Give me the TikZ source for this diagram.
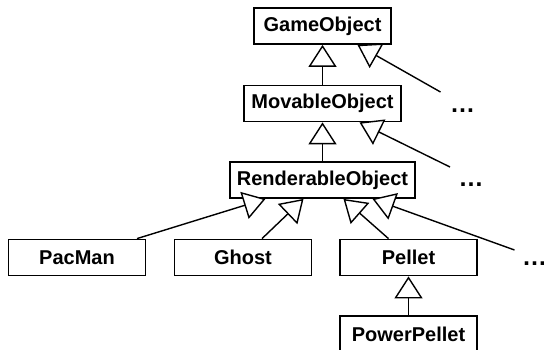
\documentclass[tikz,border=0pt]{standalone}
\usepackage{fontspec}
\setmainfont{Liberation Sans}
\usetikzlibrary{arrows.meta, positioning, calc}

\begin{document}
\begin{tikzpicture}[x=1pt, y=-1pt,
    classbox/.style={draw, line width=1.8pt, fill=white, minimum height=36pt,
        inner sep=0pt, font=\bfseries\fontsize{20}{24}\selectfont},
    more/.style={inner sep=0pt, font=\bfseries\fontsize{25}{30}\selectfont},
    inherit/.style={line width=1.4pt,
        -{Triangle[fill=white, length=22pt, width=28pt]}}]

    \useasboundingbox (0,0) rectangle (544,350);

    % ============================================================
    % CLASS CHAIN
    % ============================================================
    \node[classbox, minimum width=137pt] (game) at (322.5,26) {GameObject};
    \node[classbox, minimum width=157pt] (movable) at (322.5,103.5) {MovableObject};
    \node[classbox, minimum width=185pt] (render) at (322.5,180) {RenderableObject};

    % ============================================================
    % SUBCLASSES
    % ============================================================
    \node[classbox, minimum width=137pt] (pacman) at (77,257.5) {PacMan};
    \node[classbox, minimum width=137pt] (ghost) at (243,257.5) {Ghost};
    \node[classbox, minimum width=137pt] (pellet) at (408.5,257.5) {Pellet};
    \node[classbox, minimum width=137pt] (power) at (408.5,334) {PowerPellet};

    % ============================================================
    % OTHER SUBCLASSES
    % ============================================================
    \node[more] (dots1) at (462.5,111) {…};
    \node[more] (dots2) at (471,185) {…};
    \node[more] (dots3) at (534.5,264) {…};

    % ============================================================
    % INHERITANCE
    % ============================================================
    \draw[inherit] (movable.north) -- (game.south);
    \draw[inherit] ($(dots1)+(-22,-19)$) -- ($(game.south)+(35,0)$);

    \draw[inherit] (render.north) -- (movable.south);
    \draw[inherit] ($(dots2)+(-21,-18)$) -- ($(movable.south)+(37,0)$);

    \draw[inherit] ($(pacman.north)+(60,0)$) -- ($(render.south)+(-57,0)$);
    \draw[inherit] ($(ghost.north)+(19,0)$) -- ($(render.south)+(-19,0)$);
    \draw[inherit] ($(pellet.north)+(-20,0)$) -- ($(render.south)+(21,0)$);
    \draw[inherit] ($(dots3)+(-20,-14)$) -- ($(render.south)+(50,0)$);

    \draw[inherit] (power.north) -- (pellet.south);

\end{tikzpicture}
\end{document}
